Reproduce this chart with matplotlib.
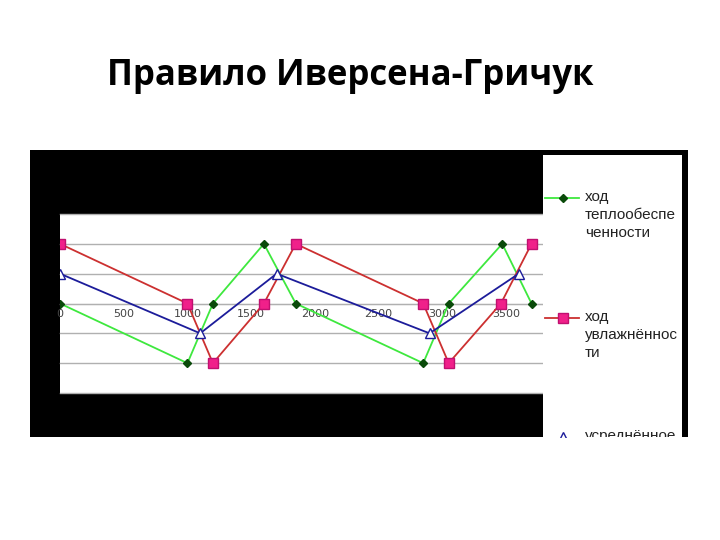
import matplotlib.pyplot as plt
from matplotlib.patches import Rectangle

# ход теплообеспеченности
heat_x = [0, 1000, 1200, 1600, 1850, 2850, 3050, 3470, 3700]
heat_y = [0, -2, 0, 2, 0, -2, 0, 2, 0]

# ход увлажнённости
wet_x = [0, 1000, 1200, 1600, 1850, 2850, 3050, 3460, 3700]
wet_y = [2, 0, -2, 0, 2, 0, -2, 0, 2]

# усреднённое
avg_x = [0, 1100, 1700, 2900, 3600]
avg_y = [1, -1, 1, -1, 1]

xticks = [0, 500, 1000, 1500, 2000, 2500, 3000, 3500]
yticks = [-3, -2, -1, 0, 1, 2, 3]
labels = ['ход\nтеплообеспе\nченности', 'ход\nувлажнённос\nти', 'усреднённое']

green = '#3ee83e'
red = '#cc3030'
blue = '#1c1c9a'

fig = plt.figure(figsize=(7.2, 5.4), dpi=100)
fig.patch.set_facecolor('white')

fig.text(350/720, 1 - 85/540, 'Правило Иверсена-Гричук', ha='center', va='baseline',
         fontsize=25, fontweight='bold', family='Open Sans')

# black block behind the chart
fig.add_artist(Rectangle((30/720, 103/540), 658/720, 287/540,
                         transform=fig.transFigure, facecolor='black', zorder=-10))

ax = fig.add_axes([60/720, 147/540, 483/720, 179/540])
ax.set_facecolor('white')
ax.plot(heat_x, heat_y, color=green, lw=1.3, marker='D', ms=4,
        mfc='#0a4a0a', mec='#0a4a0a', zorder=3)
ax.plot(wet_x, wet_y, color=red, lw=1.3, marker='s', ms=6.5,
        mfc='#f0208a', mec='#c01070', zorder=3)
ax.plot(avg_x, avg_y, color=blue, lw=1.3, marker='^', ms=7,
        mfc='white', mec=blue, zorder=4)

ax.set_xlim(0, 3790)
ax.set_ylim(-3, 3)
ax.set_xticks(xticks)
ax.set_yticks(yticks)
ax.set_yticklabels([])
ax.tick_params(axis='y', length=0)
ax.tick_params(axis='x', length=0, labelsize=8, labelcolor='#444444', pad=4)
ax.grid(axis='y', color='#b0b0b0', lw=1)
for g in ax.get_ygridlines():
    g.set_clip_on(False)
ax.set_axisbelow(True)
for s in ['left', 'right', 'top']:
    ax.spines[s].set_visible(False)
ax.spines['bottom'].set_position(('data', 0))
ax.spines['bottom'].set_color('#b0b0b0')

# legend panel, cut off at the bottom
lg = fig.add_axes([543/720, 103/540, 139/720, 282/540])
lg.set_facecolor('white')
lg.set_xlim(0, 139)
lg.set_ylim(282, 0)
lg.set_xticks([])
lg.set_yticks([])
for s in lg.spines.values():
    s.set_visible(False)

lg.plot([2, 36], [43, 43], color=green, lw=1.3)
lg.plot([20], [43], marker='D', ms=4, color='#0a4a0a')
lg.plot([2, 36], [163, 163], color=red, lw=1.3)
lg.plot([20], [163], marker='s', ms=6.5, mfc='#f0208a', mec='#c01070')
lg.plot([20], [282], marker='^', ms=7, mfc='white', mec=blue)
lg.text(42, 35, labels[0], va='top', fontsize=11, family='Liberation Sans',
        color='#222222', linespacing=1.35)
lg.text(42, 155, labels[1], va='top', fontsize=11, family='Liberation Sans',
        color='#222222', linespacing=1.35)
lg.text(42, 274, labels[2], va='top', fontsize=11, family='Liberation Sans',
        color='#222222', clip_on=True)

fig.savefig('out.png', dpi=100)
